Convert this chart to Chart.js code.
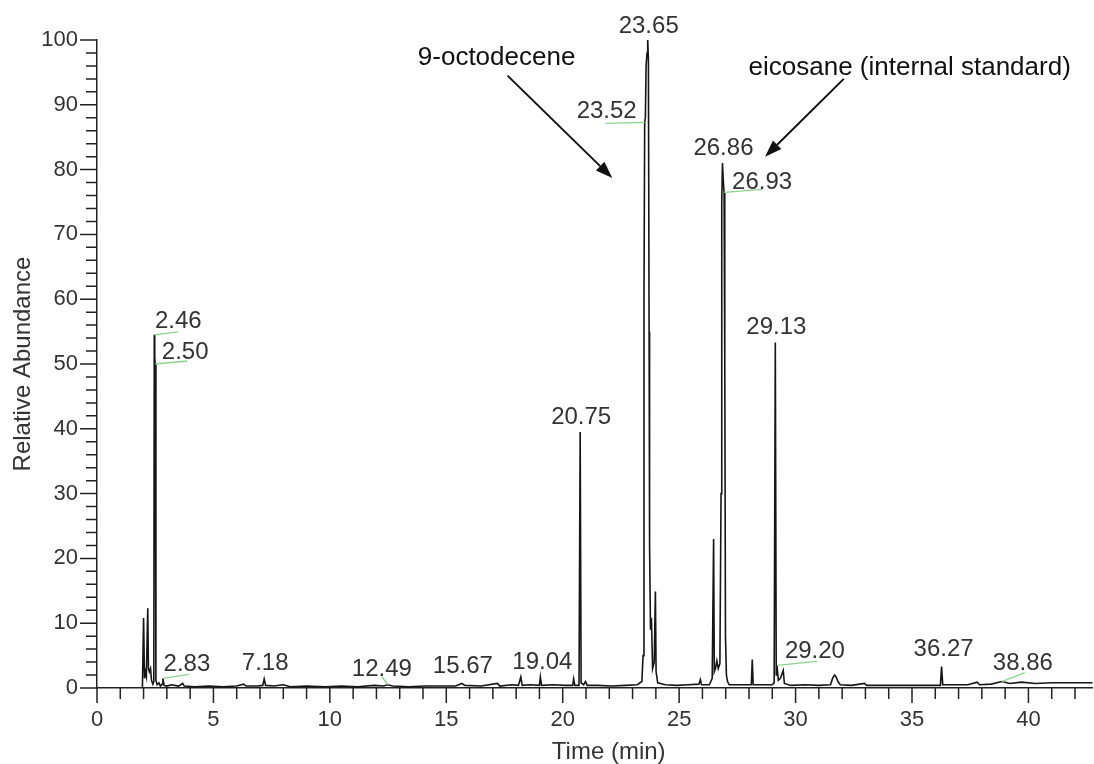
<!DOCTYPE html>
<html>
<head>
<meta charset="utf-8">
<script src="https://cdn.jsdelivr.net/npm/chart.js@4.4.0/dist/chart.umd.min.js"></script>
<style>
  html, body { margin: 0; padding: 0; background: #fff; }
  canvas { display: block; }
</style>
</head>
<body>
<canvas id="tic" width="1094" height="764"></canvas>
<script>
// retention time (min) and relative abundance (%) of the trace
var times = [
  1.95, 2.00, 2.04, 2.08, 2.12, 2.18, 2.21, 2.25, 2.30, 2.34, 2.40, 2.44, 2.46, 2.48, 2.50, 2.53,
  2.58, 2.66, 2.72, 2.80, 2.83, 2.88, 3.00, 3.20, 3.50, 3.68, 3.75, 4.20, 4.80, 5.40, 6.00, 6.30,
  6.40, 6.90, 7.12, 7.18, 7.24, 7.60, 8.00, 8.30, 9.00, 9.80, 10.50, 11.20, 11.90, 12.30, 12.49,
  12.70, 13.40, 14.10, 14.80, 15.40, 15.67, 15.80, 16.50, 17.20, 17.30, 17.80, 18.10, 18.20, 18.26,
  18.60, 19.00, 19.04, 19.09, 19.60, 20.10, 20.43, 20.47, 20.52, 20.70, 20.75, 20.79, 20.90, 20.98,
  21.05, 21.50, 22.10, 22.70, 23.20, 23.40, 23.45, 23.49, 23.52, 23.55, 23.58, 23.62, 23.65, 23.68,
  23.71, 23.73, 23.77, 23.81, 23.86, 23.93, 23.98, 24.01, 24.08, 24.40, 24.90, 25.40, 25.85, 25.91,
  25.96, 26.30, 26.42, 26.48, 26.51, 26.56, 26.62, 26.68, 26.75, 26.80, 26.83, 26.86, 26.90, 26.93,
  26.96, 26.99, 27.03, 27.08, 27.15, 27.60, 28.10, 28.14, 28.18, 28.60, 29.00, 29.08, 29.13, 29.17,
  29.20, 29.26, 29.35, 29.47, 29.52, 29.80, 30.40, 31.00, 31.50, 31.60, 31.68, 31.74, 31.82, 31.92,
  32.40, 32.96, 33.05, 33.80, 34.60, 35.40, 36.00, 36.22, 36.27, 36.32, 36.80, 37.40, 37.80, 37.90,
  38.40, 38.86, 39.20, 39.70, 40.30, 41.00, 42.00, 42.75
];
var abundance = [
  0.0, 10.8, 1.5, 2.5, 1.8, 12.3, 3.0, 2.5, 3.0, 1.2, 0.6, 1.0, 54.5, 51.0, 50.0, 1.2,
  0.5, 0.8, 0.3, 0.6, 1.5, 0.4, 0.3, 0.5, 0.3, 0.7, 0.3, 0.2, 0.3, 0.2, 0.3, 0.6,
  0.3, 0.3, 0.4, 1.4, 0.4, 0.3, 0.5, 0.2, 0.3, 0.2, 0.3, 0.2, 0.4, 0.3, 0.5,
  0.3, 0.2, 0.3, 0.3, 0.3, 0.7, 0.4, 0.3, 0.7, 0.3, 0.5, 0.4, 1.7, 0.4,
  0.5, 0.4, 1.7, 0.4, 0.5, 0.4, 0.4, 1.4, 0.4, 0.4, 39.5, 0.8, 0.5, 1.0,
  0.4, 0.4, 0.3, 0.4, 0.5, 1.0, 5.0, 60.0, 87.3, 88.0, 96.0, 98.0, 100.0, 97.0,
  55.0, 22.2, 9.0, 10.8, 3.0, 4.0, 14.9, 2.5, 0.8, 0.5, 0.4, 0.5, 0.6, 1.3,
  0.5, 0.5, 1.5, 23.0, 2.5, 3.0, 4.2, 3.0, 3.8, 30.0, 75.0, 81.0, 78.0, 76.5,
  50.0, 8.0, 2.0, 1.0, 0.5, 0.5, 0.5, 4.4, 0.5, 0.5, 0.5, 0.8, 53.3, 2.0,
  3.5, 1.2, 1.5, 2.7, 0.7, 0.4, 0.5, 0.4, 0.5, 1.6, 2.0, 1.7, 1.0, 0.5,
  0.4, 0.7, 0.4, 0.4, 0.4, 0.4, 0.4, 0.4, 3.3, 0.5, 0.5, 0.5, 0.9, 0.5,
  0.6, 1.0, 0.7, 0.9, 0.7, 0.8, 0.8, 0.8
];

// labelled peaks
var peakTimes = [2.46, 2.50, 2.83, 7.18, 12.49, 15.67, 19.04, 20.75, 23.52, 23.65, 26.86, 26.93, 29.13, 29.20, 36.27, 38.86];
var peakHeights = [54.5, 50.0, 1.5, 1.4, 0.5, 0.7, 1.7, 39.5, 87.3, 100.0, 81.0, 76.5, 53.3, 3.5, 3.3, 1.0];

// where each peak label sits relative to its peak (px): text centre, and end of the green leader if any
var labelPlacement = [
  { dx: 24, dy: -13, lx: 24, ly: -3 },
  { dx: 30, dy: -12, lx: 32, ly: -3 },
  { dx: 24, dy: -14, lx: 26, ly: -4 },
  { dx: 1, dy: -16 },
  { dx: -6, dy: -15, lx: -6, ly: -8 },
  { dx: 1, dy: -17 },
  { dx: 2, dy: -15 },
  { dx: 1, dy: -15 },
  { dx: -38, dy: -11, lx: -39, ly: 1 },
  { dx: 1, dy: -14 },
  { dx: 1, dy: -15 },
  { dx: 38, dy: -10, lx: 38, ly: -3 },
  { dx: 1, dy: -15 },
  { dx: 38, dy: -14, lx: 40, ly: -4 },
  { dx: 2, dy: -17 },
  { dx: 21, dy: -18, lx: 23, ly: -9 }
];

// compound call-outs with arrows, in axis units
var callouts = [
  { text: '9-octodecene', at: [17.16, 97.2], from: [17.63, 94.5], to: [22.13, 78.7] },
  { text: 'eicosane (internal standard)', at: [34.9, 95.7], from: [32.07, 94.0], to: [28.69, 82.0] }
];

var FONT = "'Liberation Sans', Arial, Helvetica, sans-serif";
var points = times.map(function (t, i) { return { x: t, y: abundance[i] }; });

var tickMarks = {
  id: 'tickMarks',
  afterDraw: function (chart) {
    var ctx = chart.ctx, area = chart.chartArea, xs = chart.scales.x, ys = chart.scales.y;
    ctx.save();
    ctx.strokeStyle = '#222';
    ctx.lineWidth = 1.5;
    ctx.beginPath();
    ys.ticks.forEach(function (t) {
      var py = ys.getPixelForValue(t.value);
      var len = t.value % 10 === 0 ? 17 : 11;
      ctx.moveTo(area.left - len, py);
      ctx.lineTo(area.left, py);
    });
    xs.ticks.forEach(function (t) {
      if (!Number.isInteger(t.value)) return;
      var px = xs.getPixelForValue(t.value);
      var len = t.value % 5 === 0 ? 15 : 11;
      ctx.moveTo(px, area.bottom);
      ctx.lineTo(px, area.bottom + len);
    });
    ctx.stroke();

    // x axis title, sitting a little right of the plot centre
    ctx.fillStyle = '#333';
    ctx.font = '24px ' + FONT;
    ctx.textAlign = 'center';
    ctx.textBaseline = 'middle';
    ctx.fillText('Time (min)', (area.left + area.right) / 2 + 14, 752);
    ctx.restore();
  }
};

var peakLabels = {
  id: 'peakLabels',
  afterDraw: function (chart) {
    var ctx = chart.ctx, xs = chart.scales.x, ys = chart.scales.y;
    ctx.save();
    peakTimes.forEach(function (t, i) {
      var px = xs.getPixelForValue(t), py = ys.getPixelForValue(peakHeights[i]);
      var p = labelPlacement[i];
      if (p.lx !== undefined) {
        ctx.strokeStyle = '#8fd18f';
        ctx.lineWidth = 1.3;
        ctx.beginPath();
        ctx.moveTo(px, py);
        ctx.lineTo(px + p.lx, py + p.ly);
        ctx.stroke();
      }
      ctx.fillStyle = '#333';
      ctx.font = '24px ' + FONT;
      ctx.textAlign = 'center';
      ctx.textBaseline = 'middle';
      ctx.fillText(t.toFixed(2), px + p.dx, py + p.dy);
    });

    // call-outs
    callouts.forEach(function (c) {
      ctx.fillStyle = '#111';
      ctx.font = '26px ' + FONT;
      ctx.textAlign = 'center';
      ctx.textBaseline = 'middle';
      ctx.fillText(c.text, xs.getPixelForValue(c.at[0]), ys.getPixelForValue(c.at[1]));

      var x0 = xs.getPixelForValue(c.from[0]), y0 = ys.getPixelForValue(c.from[1]);
      var x1 = xs.getPixelForValue(c.to[0]), y1 = ys.getPixelForValue(c.to[1]);
      var ang = Math.atan2(y1 - y0, x1 - x0);
      var head = 17, half = 6;
      var bx = x1 - head * Math.cos(ang), by = y1 - head * Math.sin(ang);
      ctx.strokeStyle = '#111';
      ctx.lineWidth = 2;
      ctx.beginPath();
      ctx.moveTo(x0, y0);
      ctx.lineTo(bx, by);
      ctx.stroke();
      ctx.beginPath();
      ctx.moveTo(x1, y1);
      ctx.lineTo(bx + half * Math.sin(ang), by - half * Math.cos(ang));
      ctx.lineTo(bx - half * Math.sin(ang), by + half * Math.cos(ang));
      ctx.closePath();
      ctx.fill();
    });
    ctx.restore();
  }
};

var ctx = document.getElementById('tic').getContext('2d');
var chart = new Chart(ctx, {
  type: 'line',
  data: {
    datasets: [{
      data: points,
      borderColor: '#151515',
      borderWidth: 1.6,
      pointRadius: 0,
      tension: 0,
      fill: false,
      clip: false
    }]
  },
  options: {
    responsive: false,
    animation: false,
    layout: { padding: { top: 40, right: 0, left: 0, bottom: 0 } },
    plugins: {
      legend: { display: false },
      tooltip: { enabled: false }
    },
    scales: {
      x: {
        type: 'linear',
        min: 0,
        max: 42.75,
        grid: { drawOnChartArea: false, drawTicks: false },
        border: { color: '#222', width: 1.5 },
        ticks: {
          stepSize: 1,
          includeBounds: false,
          autoSkip: false,
          maxRotation: 0,
          padding: 19,
          color: '#333',
          font: { family: FONT, size: 22 },
          callback: function (v) { return v % 5 === 0 ? v : ''; }
        },
        afterFit: function (s) { s.height = 76; }
      },
      y: {
        min: 0,
        max: 100,
        grid: { drawOnChartArea: false, drawTicks: false },
        border: { color: '#222', width: 1.5 },
        ticks: {
          stepSize: 2,
          autoSkip: false,
          padding: 19,
          color: '#333',
          font: { family: FONT, size: 22 },
          callback: function (v) { return v % 10 === 0 ? v : ''; }
        },
        title: {
          display: true,
          text: 'Relative Abundance',
          color: '#333',
          font: { family: FONT, size: 24, lineHeight: 1 },
          padding: { top: 11, bottom: 0 }
        },
        afterFit: function (s) { s.width = 97; }
      }
    }
  },
  plugins: [tickMarks, peakLabels]
});
</script>
</body>
</html>
